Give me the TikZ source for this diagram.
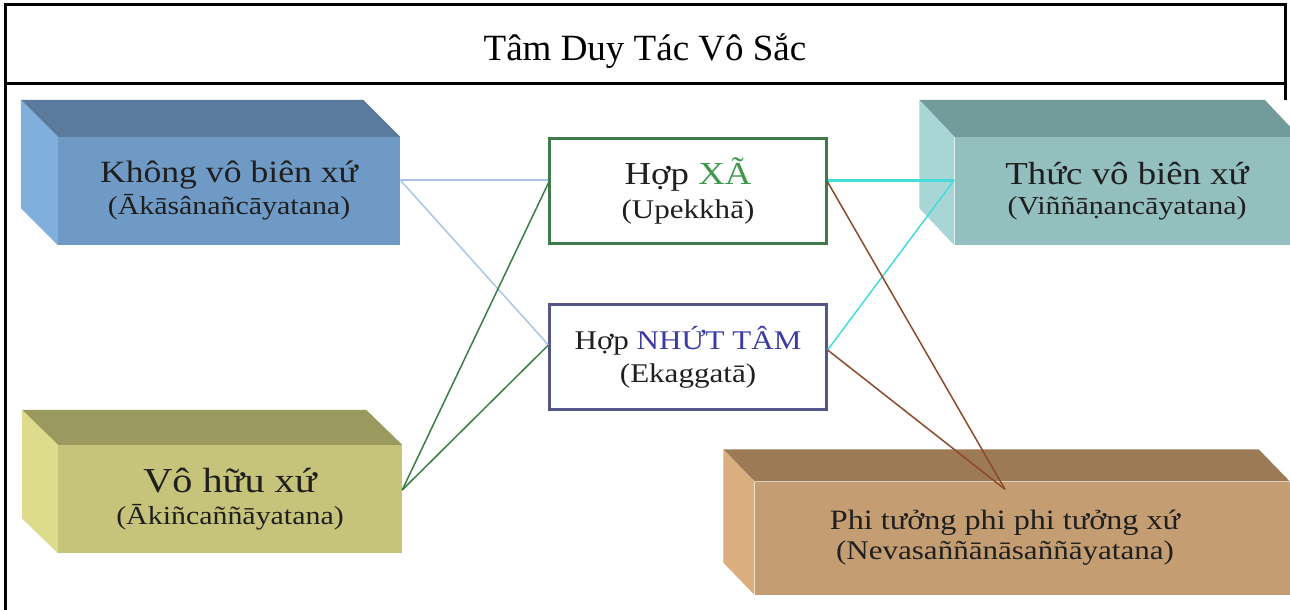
\documentclass[tikz,border=0pt]{standalone}
\usepackage{fontspec}
\setmainfont{Liberation Serif}
\newfontfamily\boxfont[FakeStretch=1.15]{Liberation Serif}
\usetikzlibrary{calc}
\definecolor{kvbFront}{HTML}{6F9AC6}
\definecolor{kvbTop}{HTML}{5A7B9C}
\definecolor{kvbSide}{HTML}{80AEDD}
\definecolor{vhxFront}{HTML}{C5C47A}
\definecolor{vhxTop}{HTML}{9B9A5E}
\definecolor{vhxSide}{HTML}{DCDC8C}
\definecolor{tvbFront}{HTML}{93BFBF}
\definecolor{tvbTop}{HTML}{729C9C}
\definecolor{tvbSide}{HTML}{A8D5D5}
\definecolor{phiFront}{HTML}{C49E72}
\definecolor{phiTop}{HTML}{9C7A56}
\definecolor{phiSide}{HTML}{DAAE7E}
\definecolor{xaEdge}{HTML}{3E7A4C}
\definecolor{xaText}{HTML}{3D9A4D}
\definecolor{ntEdge}{HTML}{565686}
\definecolor{ntText}{HTML}{3B3BA3}
\definecolor{blueLink}{HTML}{A9C6E6}
\definecolor{greenLink}{HTML}{3A7D44}
\definecolor{cyanLink}{HTML}{45DCDC}
\definecolor{brownLink}{HTML}{8C4A2C}
% top and left faces of a block (front face = node #1)
\newcommand{\sidefaces}[5]{%
  \fill[#2] (#1.north west) -- ++(#4,#5) -- ($(#1.north east)+(#4,#5)$)
    -- (#1.north east) -- cycle;
  \fill[#3] (#1.north west) -- ++(#4,#5) -- ($(#1.south west)+(#4,#5)$)
    -- (#1.south west) -- cycle;}
\newcommand{\bsize}[2]{\fontsize{#1}{#2}\selectfont}

\begin{document}
\begin{tikzpicture}[x=1pt, y=-1pt,
  block/.style={inner sep=0pt, minimum height=108pt, align=center, text=black!88},
  hop/.style={draw, line width=2.2pt, fill=white, inner sep=0pt,
              minimum width=277pt, minimum height=105pt, align=center,
              text=black!88},
  link/.style={line width=1.5pt}
]
\useasboundingbox (0,0) rectangle (1290,610);
\clip (0,0) rectangle (1290,610);
% frame and title
\draw[line width=3pt] (5,610) -- (5,5) -- (1285,5) -- (1285,100);
\draw[line width=3pt] (5,83) -- (1285,83);
\node[font=\bsize{37}{40}, anchor=base] (title) at (645,60) {Tâm Duy Tác Vô Sắc};
% blocks
\node[block, fill=kvbFront, minimum width=342pt, font=\boxfont\bsize{26}{32}]
  (kvb) at (229,191) {\bsize{31}{32}Không vô biên xứ\\(Ākāsânañcāyatana)};
\sidefaces{kvb}{kvbTop}{kvbSide}{-37}{-37}
\node[block, fill=vhxFront, minimum width=344pt, font=\boxfont\bsize{26}{32}]
  (vhx) at (230,499) {\bsize{35}{32}Vô hữu xứ\\(Ākiñcaññāyatana)};
\sidefaces{vhx}{vhxTop}{vhxSide}{-36}{-35}
\node[block, fill=tvbFront, minimum width=345pt, font=\boxfont\bsize{26}{30}]
  (tvb) at (1127,191) {\bsize{32}{30}Thức vô biên xứ\\(Viññāṇancāyatana)};
\sidefaces{tvb}{tvbTop}{tvbSide}{-35}{-37}
\node[block, fill=phiFront, minimum width=535pt, minimum height=113pt,
  font=\boxfont\bsize{27}{30}] (phi) at (1022,538)
  {\hspace*{-34pt}\bsize{28}{30}Phi tưởng phi phi tưởng xứ\\
   \hspace*{-34pt}(Nevasaññānāsaññāyatana)};
\sidefaces{phi}{phiTop}{phiSide}{-31}{-32}
% factors
\node[hop, draw=xaEdge, font=\boxfont\bsize{27}{34}] (xa) at (688,191)
  {\bsize{32}{34}Hợp \textcolor{xaText}{XÃ}\\(Upekkhā)};
\node[hop, draw=ntEdge, font=\boxfont\bsize{27}{33}] (nt) at (688,357)
  {Hợp \textcolor{ntText}{NHỨT TÂM}\\(Ekaggatā)};
% links
\draw[link, blueLink] ([yshift=11pt]kvb.east) -- ([yshift=11pt]xa.west);
\draw[link, blueLink] ([yshift=11pt]kvb.east) -- ([yshift=12pt]nt.west);
\draw[link, greenLink] ([yshift=9pt]vhx.east) -- ([yshift=8pt]xa.west);
\draw[link, greenLink] ([yshift=9pt]vhx.east) -- ([yshift=12pt]nt.west);
\draw[link, cyanLink, line width=3pt] ([yshift=11pt]xa.east) -- ([yshift=11pt]tvb.west);
\draw[link, cyanLink] ([yshift=7pt]nt.east) -- ([yshift=11pt]tvb.west);
\draw[link, brownLink] ([yshift=9pt]xa.east) -- ([xshift=-17pt,yshift=-8pt]phi.north);
\draw[link, brownLink] ([yshift=7pt]nt.east) -- ([xshift=-17pt,yshift=-8pt]phi.north);
\end{tikzpicture}
\end{document}
